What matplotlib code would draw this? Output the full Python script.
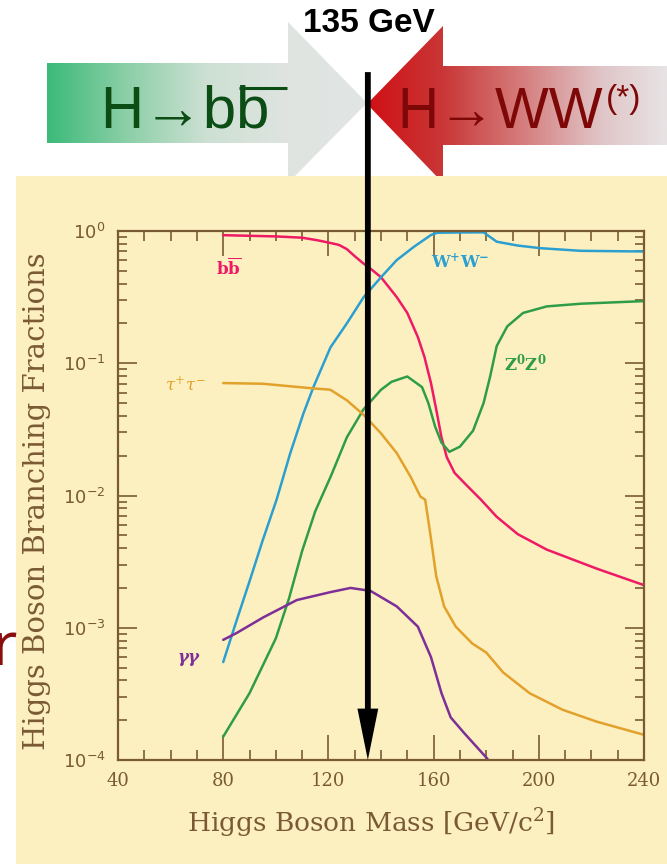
import numpy as np
import matplotlib
matplotlib.use('Agg')
import matplotlib.pyplot as plt
from matplotlib.patches import Polygon, Rectangle
from matplotlib.colors import LinearSegmentedColormap
from matplotlib.ticker import MultipleLocator, LogLocator, NullFormatter

plt.rcParams['mathtext.fontset'] = 'dejavuserif'

# branching fractions (mass in GeV/c^2)
bb_mass = [80, 100, 110, 116, 121, 124, 127, 130, 133, 136.5, 140, 146, 150, 154, 156.5,
           159, 161, 163, 165, 168, 173, 178, 184, 192, 203, 222, 240]
bb_br = [0.93, 0.91, 0.89, 0.85, 0.81, 0.785, 0.73, 0.645, 0.575, 0.51, 0.447, 0.316,
         0.24, 0.158, 0.112, 0.0708, 0.0447, 0.0275, 0.0195, 0.0148, 0.0117, 0.0093,
         0.0069, 0.0051, 0.0039, 0.0028, 0.0021]

ww_mass = [80, 85, 90, 95, 100.3, 105.5, 110.5, 114.3, 120.8, 127, 133.4,
           140, 146, 152.5, 159, 161.4, 170, 179, 184, 192, 200.8, 216, 240]
ww_br = [5.5e-4, 1.12e-3, 2.24e-3, 4.57e-3, 9.3e-3, 0.0209, 0.0417, 0.066, 0.132,
         0.2, 0.316, 0.447, 0.603, 0.759, 0.933, 0.97, 0.975, 0.977, 0.83, 0.776,
         0.741, 0.708, 0.70]

zz_mass = [80, 90, 100, 105, 110, 115, 121, 127, 133.3, 140, 144, 150, 155.6,
           158, 160.6, 163, 166, 170, 175, 179, 181.5, 184, 188, 194, 203, 216, 240]
zz_br = [1.5e-4, 3.2e-4, 8.3e-4, 1.66e-3, 3.8e-3, 7.6e-3, 0.0141, 0.0275, 0.0447,
         0.063, 0.0724, 0.0794, 0.066, 0.050, 0.0331, 0.0251, 0.0214, 0.0234, 0.0309,
         0.050, 0.0794, 0.135, 0.19, 0.24, 0.269, 0.282, 0.295]

tau_mass = [80, 95, 114, 120.7, 127, 133.4, 140, 146, 151.3, 155, 156.8, 158.7, 161,
            164, 168.4, 174.7, 180, 186.4, 196.5, 209, 222, 240]
tau_br = [0.0708, 0.070, 0.0646, 0.0631, 0.0525, 0.0407, 0.0295, 0.0209, 0.0138,
          9.8e-3, 9.3e-3, 5.2e-3, 2.45e-3, 1.45e-3, 1.02e-3, 7.6e-4, 6.5e-4, 4.6e-4,
          3.2e-4, 2.4e-4, 1.95e-4, 1.55e-4]

gg_mass = [80, 85, 95.3, 108, 120.8, 128.4, 136, 146, 154, 159, 163, 166.5, 171.6, 180.5]
gg_br = [8.1e-4, 9.1e-4, 1.2e-3, 1.62e-3, 1.86e-3, 2.0e-3, 1.9e-3, 1.45e-3, 1.02e-3,
         6.0e-4, 3.2e-4, 2.1e-4, 1.6e-4, 1.02e-4]

channels = ['bb', 'ww', 'zz', 'tau', 'gg']
labels = [r'$\mathbf{b}\overline{\mathbf{b}}$', r'$\mathbf{W^{+}W^{-}}$', r'$\mathbf{Z^{0}Z^{0}}$',
          r'$\boldsymbol{\tau^{+}\tau^{-}}$', r'$\boldsymbol{\gamma\gamma}$']
label_mass = [82, 170.3, 195, 65.5, 67]
label_br = [0.52, 0.58, 0.10, 0.068, 5.8e-4]
colors = {'bb': '#ee1a66', 'ww': '#2b9fd0', 'zz': '#2f9d47',
          'tau': '#e2a12b', 'gg': '#7d2e98'}

brown = '#7a5a32'
yellow = '#fdf0c0'

fig = plt.figure(figsize=(6.67, 8.64), dpi=100)

# background layer in pixel units: panel, big arrows, header texts
bg = fig.add_axes([0, 0, 1, 1], zorder=0)
bg.set_xlim(0, 667)
bg.set_ylim(864, 0)
bg.axis('off')
bg.add_patch(Rectangle((16, 175.5), 700, 700, color=yellow, lw=0))

green_cmap = LinearSegmentedColormap.from_list(
    'g', [(0, '#3cba79'), (0.25, '#8ccfa8'), (0.5, '#cde0d3'), (0.75, '#dfe4e1'), (1, '#e1e5e3')])
red_cmap = LinearSegmentedColormap.from_list(
    'r', [(0, '#d01015'), (0.25, '#c93636'), (0.5, '#d57878'), (0.78, '#e0c5c7'), (1, '#e7e3e4')])
grad = np.linspace(0, 1, 256).reshape(1, -1)

g_poly = Polygon([(47, 63), (288, 63), (288, 22), (367, 103), (288, 183), (288, 143), (47, 143)],
                 closed=True, fc='none', ec='none')
bg.add_patch(g_poly)
im = bg.imshow(grad, extent=(47, 367, 183, 22), aspect='auto', cmap=green_cmap)
im.set_clip_path(g_poly)

r_poly = Polygon([(367, 104), (443, 26), (443, 66), (667, 66), (667, 145), (443, 145), (443, 183)],
                 closed=True, fc='none', ec='none')
bg.add_patch(r_poly)
im2 = bg.imshow(grad, extent=(367, 667, 183, 26), aspect='auto', cmap=red_cmap)
im2.set_clip_path(r_poly)
bg.set_xlim(0, 667)
bg.set_ylim(864, 0)

sans = ['Liberation Sans', 'DejaVu Sans']
bg.text(100, 128, 'H→bb', fontsize=43, family=sans, color='#0b4d14', va='baseline')
bg.plot([239, 287], [88, 88], color='#0b4d14', lw=2.2, solid_capstyle='butt')
bg.text(397, 128, 'H→WW', fontsize=41, family=sans, color='#7e0808', va='baseline')
bg.text(606, 108, '(*)', fontsize=24, family=sans, color='#7e0808', va='baseline')
bg.text(369, 24, '135 GeV', fontsize=24, family=sans, weight='bold', color='black',
        ha='center', va='center')
bg.text(-8, 665, 'r', fontsize=44, family=['Noto Sans', 'DejaVu Sans'], color='#8a0e0e',
        va='baseline')

# main plot
ax = fig.add_axes([118 / 667, 1 - 760 / 864, 526 / 667, 529 / 864], zorder=2)
ax.set_facecolor('none')

series = {'bb': (bb_mass, bb_br), 'ww': (ww_mass, ww_br), 'zz': (zz_mass, zz_br),
          'tau': (tau_mass, tau_br), 'gg': (gg_mass, gg_br)}
for key in channels:
    m, br = series[key]
    ax.plot(m, br, color=colors[key], lw=1.8, solid_capstyle='round', solid_joinstyle='round')

for key, lab, lm, lb in zip(channels, labels, label_mass, label_br):
    ax.text(lm, lb, lab, color=colors[key], fontsize=12, ha='center', va='center')

ax.set_yscale('log')
ax.set_xlim(40, 240)
ax.set_ylim(1e-4, 1)
ax.xaxis.set_major_locator(MultipleLocator(40))
ax.xaxis.set_minor_locator(MultipleLocator(10))
ax.yaxis.set_major_locator(LogLocator(base=10, numticks=10))
ax.yaxis.set_minor_locator(LogLocator(base=10, subs=np.arange(2, 10), numticks=10))
ax.yaxis.set_minor_formatter(NullFormatter())

ax.xaxis.set_tick_params(which='major', length=18, width=1.2)
ax.xaxis.set_tick_params(which='minor', length=7, width=1.2)
ax.yaxis.set_tick_params(which='major', length=14, width=1.2)
ax.yaxis.set_tick_params(which='minor', length=6.5, width=1.2)
ax.tick_params(which='both', direction='in', top=True, right=True, color=brown,
               labelcolor=brown, labelsize=13)
ax.tick_params(axis='x', pad=9)
ax.tick_params(axis='y', pad=9)
for lab in ax.get_xticklabels():
    lab.set_family('DejaVu Serif')
for sp in ax.spines.values():
    sp.set_color(brown)
    sp.set_linewidth(1.6)

ax.set_ylabel('Higgs Boson Branching Fractions', fontsize=21, family='DejaVu Serif', color=brown)
ax.yaxis.set_label_coords(-0.128, 0.49)
ax.set_xlabel('Higgs Boson Mass [GeV/c$^2$]', fontsize=19, family='DejaVu Serif', color=brown)
ax.xaxis.set_label_coords(0.481, -0.087)

# 135 GeV marker arrow
ax.annotate('', xy=(135, 1e-4), xytext=(135, 15.9), xycoords='data', textcoords='data',
            annotation_clip=False,
            arrowprops=dict(width=4.2, headwidth=15, headlength=37, color='black',
                            lw=0, shrink=0))

fig.savefig('out.png', dpi=100)
